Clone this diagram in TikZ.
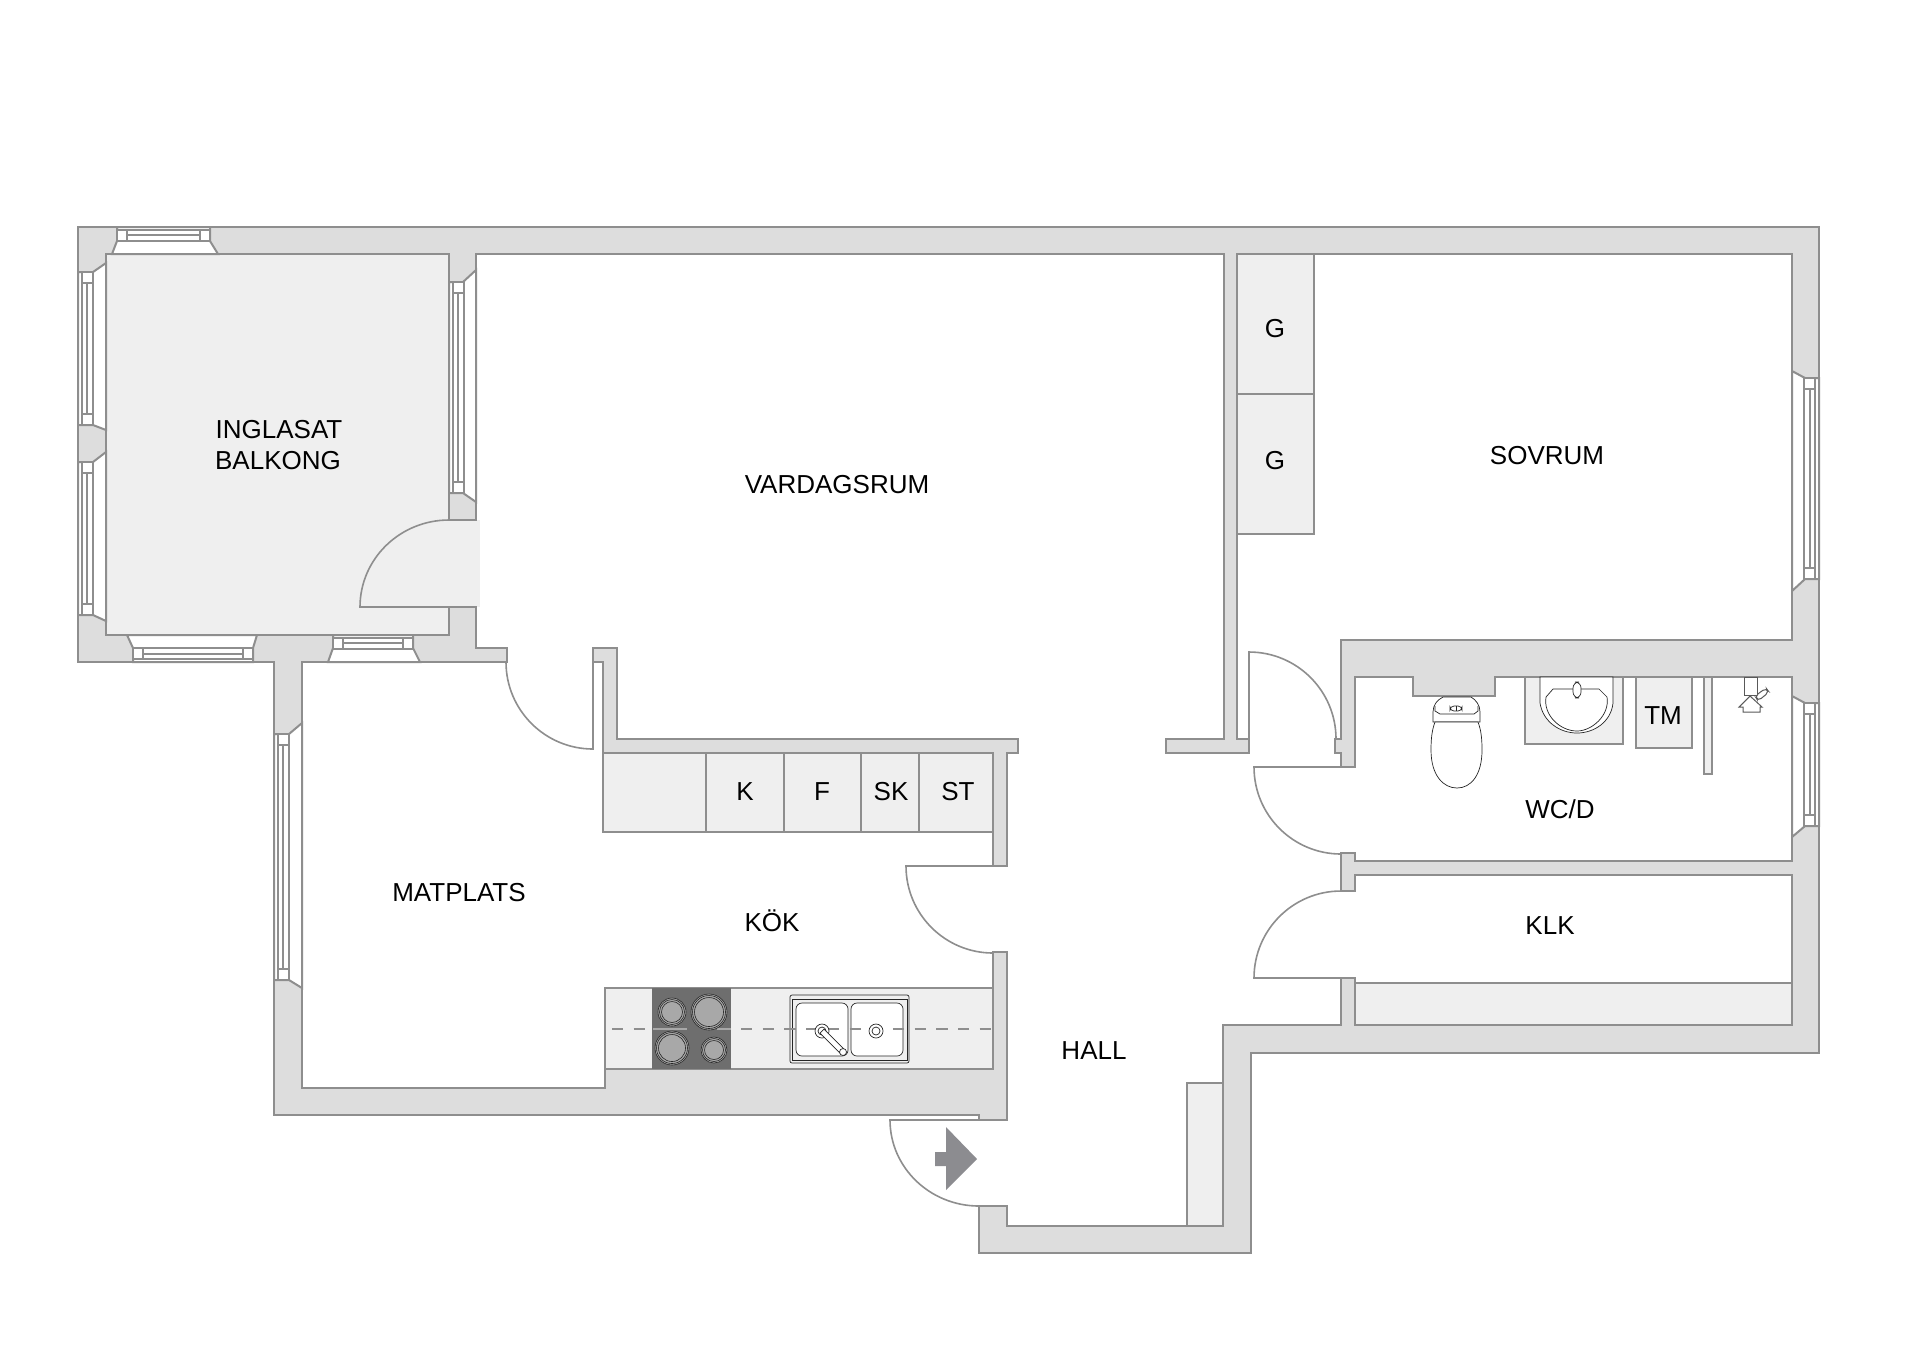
\documentclass[tikz,border=0pt]{standalone}
\usepackage{fontspec}
\usepackage{xcolor}
\usepackage{tikz}
\setmainfont{Liberation Sans}
\definecolor{wallgrey}{HTML}{DDDDDD}
\definecolor{fittedgrey}{HTML}{EFEFEF}
\definecolor{linegrey}{HTML}{8E8E8E}
\definecolor{hobgrey}{HTML}{6E6E6E}
\definecolor{ringgrey}{HTML}{A8A8A8}
\definecolor{arrowgrey}{HTML}{8C8C90}
\newcommand{\winh}[4]{
    \draw [frame] (#1,{#3+#4*3}) rectangle (#2,{#3+#4*14});
    \draw [frame] ({#1+10},{#3+#4*3}) rectangle ({#2-10},{#3+#4*14});
    \draw [frame] ({#1+10},{#3+#4*8}) -- ({#2-10},{#3+#4*8});
}
\newcommand{\winv}[4]{
    \draw [frame] ({#1+#2*4},#3) rectangle ({#1+#2*15},#4);
    \draw [frame] ({#1+#2*4},{#3+11}) rectangle ({#1+#2*15},{#4-11});
    \draw [frame] ({#1+#2*9},{#3+11}) -- ({#1+#2*9},{#4-11});
}
\newcommand{\burner}[3]{
    \draw [ring, fill=ringgrey] (#1,#2) circle (#3);
    \draw [ring] (#1,#2) circle ({#3-1.5});
    \draw [ring] (#1,#2) circle ({#3-3.5});
}
\begin{document}
\begin{tikzpicture}[
        x = 0.5pt, y = -0.5pt,
        every node/.style = {font = \fontsize{13}{15}\selectfont, inner sep = 0pt},
    ]
    \tikzstyle{wall} = [draw=linegrey, line width=1pt, fill=wallgrey, line join=miter];
    \tikzstyle{fitted} = [draw=linegrey, line width=1pt, fill=fittedgrey];
    \tikzstyle{reveal} = [draw=linegrey, line width=1pt, fill=white];
    \tikzstyle{frame} = [draw=linegrey, line width=0.8pt, fill=white];
    \tikzstyle{door} = [draw=linegrey, line width=0.8pt];
    \tikzstyle{fixture} = [draw=black!85, line width=0.35pt, fill=white];
    \tikzstyle{ring} = [draw=black!85, line width=0.3pt];
    \tikzstyle{shower} = [draw=black!65, line width=0.5pt, fill=white];
    \tikzstyle{centreline} = [draw=linegrey, line width=1pt, dash pattern=on 5.7pt off 5.15pt];
    \tikzstyle{roomlabel} = [anchor=base, text=black];
    \useasboundingbox (0,0) rectangle (1920,1357);
    \fill [white] (0,0) rectangle (1920,1357);

    \fill [fittedgrey] (106,254) rectangle (449,635);
    \fill [fittedgrey] (449,520) rectangle (480,607);
    \draw [fitted] (1237,254) rectangle (1314,394);
    \draw [fitted] (1237,394) rectangle (1314,534);
    \draw [fitted] (1355,983) rectangle (1792,1025);
    \draw [fitted] (1187,1083) rectangle (1223,1226);
    \draw [fitted] (603,753) rectangle (706,832);
    \draw [fitted] (706,753) rectangle (784,832);
    \draw [fitted] (784,753) rectangle (861,832);
    \draw [fitted] (861,753) rectangle (919,832);
    \draw [fitted] (919,753) rectangle (993,832);
    \draw [fitted] (605,988) rectangle (993,1069);
    \draw [fitted] (1525,677) rectangle (1623,744);
    \draw [fitted] (1636,677) rectangle (1692,748);
    \draw [fitted] (1704,677) rectangle (1712,774);

    \draw [wall] (78,227) -- (1819,227) -- (1819,1053) -- (1251,1053) -- (1251,1253)
        -- (979,1253) -- (979,1206) -- (1007,1206) -- (1007,1226) -- (1223,1226)
        -- (1223,1025) -- (1341,1025) -- (1341,978) -- (1355,978) -- (1355,1025)
        -- (1792,1025) -- (1792,875) -- (1355,875) -- (1355,891) -- (1341,891)
        -- (1341,853) -- (1355,853) -- (1355,861) -- (1792,861) -- (1792,677)
        -- (1495,677) -- (1495,696) -- (1413,696) -- (1413,677) -- (1355,677)
        -- (1355,767) -- (1341,767) -- (1341,753) -- (1335,753) -- (1335,739)
        -- (1341,739) -- (1341,640) -- (1792,640) -- (1792,254) -- (1237,254)
        -- (1237,739) -- (1249,739) -- (1249,753) -- (1166,753) -- (1166,739)
        -- (1224,739) -- (1224,254) -- (476,254) -- (476,520) -- (449,520)
        -- (449,254) -- (106,254) -- (106,635) -- (449,635) -- (449,607)
        -- (476,607) -- (476,648) -- (507,648) -- (507,662) -- (302,662)
        -- (302,1088) -- (605,1088) -- (605,1069) -- (993,1069) -- (993,952)
        -- (1007,952) -- (1007,1120) -- (979,1120) -- (979,1115) -- (274,1115)
        -- (274,662) -- (78,662) -- cycle;
    \draw [wall] (617,648) -- (593,648) -- (593,662) -- (603,662) -- (603,753)
        -- (993,753) -- (993,866) -- (1007,866) -- (1007,753) -- (1018,753)
        -- (1018,739) -- (617,739) -- cycle;

    \draw [reveal] (117,227) -- (210,227) -- (210,241) -- (218,254) -- (112,254) -- (117,241) -- cycle;
    \draw [reveal] (78,272) -- (93,272) -- (106,263) -- (106,430) -- (93,425) -- (78,425) -- cycle;
    \draw [reveal] (78,462) -- (93,462) -- (106,452) -- (106,621) -- (93,615) -- (78,615) -- cycle;
    \draw [reveal] (133,662) -- (253,662) -- (253,648) -- (257,635) -- (127,635) -- (133,648) -- cycle;
    \draw [reveal] (333,635) -- (413,635) -- (413,648) -- (420,662) -- (328,662) -- (333,648) -- cycle;
    \draw [reveal] (449,282) -- (463,282) -- (476,270) -- (476,502) -- (463,493) -- (449,493) -- cycle;
    \draw [reveal] (274,734) -- (289,734) -- (302,723) -- (302,988) -- (289,980) -- (274,980) -- cycle;
    \draw [reveal] (1819,378) -- (1805,378) -- (1792,371) -- (1792,591) -- (1805,579) -- (1819,579) -- cycle;
    \draw [reveal] (1819,703) -- (1805,703) -- (1792,696) -- (1792,837) -- (1805,826) -- (1819,826) -- cycle;

    \winh{117}{210}{227}{1}
    \winh{133}{253}{662}{-1}
    \winh{333}{413}{635}{1}
    \winv{78}{1}{272}{425}
    \winv{78}{1}{462}{615}
    \winv{449}{1}{282}{493}
    \winv{274}{1}{734}{980}
    \winv{1819}{-1}{378}{579}
    \winv{1819}{-1}{703}{826}

    \draw [door] (1249,739) -- (1249,652) arc [start angle=-90, end angle=0, radius=87];
    \draw [door] (1341,767) -- (1254,767) arc [start angle=180, end angle=90, radius=87];
    \draw [door] (1341,978) -- (1254,978) arc [start angle=180, end angle=270, radius=87];
    \draw [door] (993,866) -- (906,866) arc [start angle=180, end angle=90, radius=87];
    \draw [door] (593,662) -- (593,749) arc [start angle=90, end angle=180, radius=87];
    \draw [door] (979,1120) -- (890,1120) arc [start angle=180, end angle=90, x radius=89, y radius=86];
    \draw [door] (449,607) -- (360,607) arc [start angle=180, end angle=270, x radius=89, y radius=87];

    \fill [arrowgrey] (935,1152) -- (946,1152) -- (946,1127) -- (977,1159) -- (946,1190)
        -- (946,1166) -- (935,1166) -- cycle;

    \fill [hobgrey] (652,988) rectangle (731,1069);
    \draw [draw=ringgrey, line width=0.8pt] (653,1029) -- (687,1029);
    \draw [draw=ringgrey, line width=0.8pt] (717,1029) -- (731,1029);
    \burner{672}{1012}{14}
    \burner{709}{1012}{18}
    \burner{672}{1048}{17}
    \burner{714}{1050}{13}
    \draw [fixture, fill=none, rounded corners=1pt] (790,995) rectangle (909,1063);
    \draw [fixture, fill=none] (792,999) rectangle (907,1060);
    \draw [fixture, rounded corners=3pt] (796,1003) rectangle (848,1056);
    \draw [fixture, rounded corners=3pt] (851,1003) rectangle (903,1056);
    \draw [centreline] (612,1029) -- (652,1029);
    \draw [centreline, dash phase=0pt] (741,1029) -- (993,1029);
    \draw [fixture] (822,1031) circle (7);
    \draw [fixture] (822,1031) circle (4);
    \draw [fixture] (876,1031) circle (7);
    \draw [fixture] (876,1031) circle (4);
    \draw [fixture] (820,1033) -- (824,1029) -- (845,1050) -- (841,1054) -- cycle;
    \draw [fixture] (843,1052) circle (3.5);

    \draw [fixture] (1540,677) -- (1540,703) .. controls (1543,722) and (1560,733) .. (1577,733)
        .. controls (1594,733) and (1611,722) .. (1613,703) -- (1613,677) -- cycle;
    \draw [fixture] (1553,689) -- (1599,689) -- (1607,697) .. controls (1610,715) and (1592,731) .. (1577,731)
        .. controls (1560,731) and (1543,715) .. (1546,697) -- cycle;
    \draw [fixture, rounded corners=3pt] (1573,682) rectangle (1581,698);

    \draw [fixture] (1443,697) .. controls (1437,700) and (1433,705) .. (1433,712) -- (1433,722)
        -- (1480,722) -- (1480,712) .. controls (1480,705) and (1476,700) .. (1471,697) -- cycle;
    \draw [fixture] (1435,706) -- (1435,711) -- (1440,714) -- (1474,714) -- (1478,711) -- (1478,706);
    \draw [fixture] (1435,722) .. controls (1432,730) and (1431,738) .. (1431,750)
        .. controls (1431,775) and (1443,788) .. (1457,788)
        .. controls (1471,788) and (1482,775) .. (1482,750)
        .. controls (1482,738) and (1481,730) .. (1478,722) -- cycle;
    \draw [fixture, rounded corners=2pt] (1450,706) rectangle (1462,711);
    \draw [fixture] (1456,706) -- (1456,711);

    \draw [shower] (1744,677) rectangle (1757,695);
    \draw [shower, rounded corners=2pt] (1755,696) -- (1766,688) -- (1769,692) -- (1758,701) -- cycle;
    \draw [shower] (1750,696) -- (1739,707) -- (1743,707) -- (1743,712) -- (1760,712)
        -- (1760,707) -- (1762,707) -- cycle;

    \node [roomlabel] (inglasat) at (279,438) {INGLASAT};
    \node [roomlabel] (balkong) at (278,469) {BALKONG};
    \node [roomlabel] (vardagsrum) at (837,493) {VARDAGSRUM};
    \node [roomlabel] (sovrum) at (1547,464) {SOVRUM};
    \node [roomlabel] (g1) at (1275,337) {G};
    \node [roomlabel] (g2) at (1275,469) {G};
    \node [roomlabel] (matplats) at (459,901) {MATPLATS};
    \node [roomlabel] (kok) at (772,931) {KÖK};
    \node [roomlabel] (hall) at (1094,1059) {HALL};
    \node [roomlabel] (wcd) at (1560,818) {WC/D};
    \node [roomlabel] (klk) at (1550,934) {KLK};
    \node [roomlabel] (tm) at (1663,724) {TM};
    \node [roomlabel] (k) at (745,800) {K};
    \node [roomlabel] (f) at (822,800) {F};
    \node [roomlabel] (sk) at (891,800) {SK};
    \node [roomlabel] (st) at (958,800) {ST};
\end{tikzpicture}
\end{document}
